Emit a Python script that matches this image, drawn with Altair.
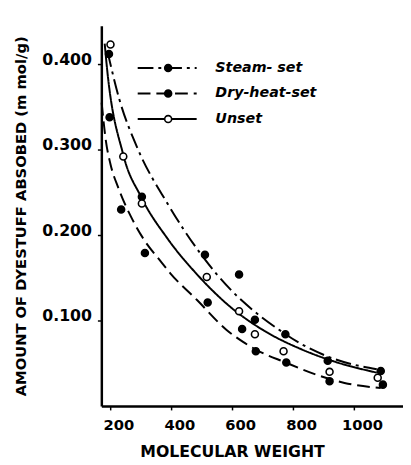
import altair as alt
import pandas as pd

series = ["Steam-set", "Dry-heat-set", "Unset"]

# measured points
steam_x = [195, 303, 510, 622, 674, 774, 913, 1087]
steam_y = [0.412, 0.245, 0.177, 0.154, 0.101, 0.084, 0.053, 0.041]
dry_x = [197, 235, 313, 519, 632, 677, 777, 919, 1094]
dry_y = [0.338, 0.230, 0.179, 0.121, 0.090, 0.064, 0.051, 0.029, 0.025]
unset_x = [200, 242, 303, 516, 622, 674, 768, 919, 1077]
unset_y = [0.423, 0.292, 0.237, 0.151, 0.111, 0.084, 0.064, 0.040, 0.033]

# fitted curves
steam_cx = [190, 229, 287, 387, 494, 603, 668, 752, 829, 935, 1074]
steam_cy = [0.415, 0.359, 0.303, 0.237, 0.179, 0.133, 0.112, 0.0895, 0.072, 0.055, 0.043]
dry_cx = [171, 185, 200, 226, 268, 313, 361, 397, 484, 581, 635, 677, 774, 881, 968, 1087]
dry_cy = [0.355, 0.310, 0.283, 0.255, 0.221, 0.193, 0.171, 0.155, 0.124, 0.089, 0.075,
          0.066, 0.051, 0.036, 0.027, 0.021]
unset_cx = [181, 187, 242, 300, 387, 484, 590, 700, 829, 935, 1074]
unset_cy = [0.424, 0.401, 0.294, 0.245, 0.196, 0.154, 0.117, 0.089, 0.066, 0.052, 0.039]

x_ticks = [200, 400, 600, 800, 1000]
y_ticks = [0.1, 0.2, 0.3, 0.4]

legend_labels = ["Steam- set", "Dry-heat-set", "Unset"]

pts = pd.concat([
    pd.DataFrame({"mw": steam_x, "amt": steam_y, "series": series[0]}),
    pd.DataFrame({"mw": dry_x, "amt": dry_y, "series": series[1]}),
    pd.DataFrame({"mw": unset_x, "amt": unset_y, "series": series[2]}),
])
curves = pd.concat([
    pd.DataFrame({"mw": steam_cx, "amt": steam_cy, "series": series[0]}),
    pd.DataFrame({"mw": dry_cx, "amt": dry_cy, "series": series[1]}),
    pd.DataFrame({"mw": unset_cx, "amt": unset_cy, "series": series[2]}),
])

FONT = "DejaVu Sans"
dashes = [[16, 5, 3, 5], [13, 6], [1, 0]]
fills = ["black", "black", "white"]

xs = alt.X("mw:Q", scale=alt.Scale(domain=[170, 1160], nice=False, zero=False),
           axis=alt.Axis(values=x_ticks, format="d", title="MOLECULAR    WEIGHT", labelOffset=8,
                         grid=False, domainWidth=2.5, domainColor="black",
                         tickSize=4, tickColor="black", tickWidth=1.5,
                         labelFont=FONT, labelFontSize=15, labelFontWeight="bold",
                         labelColor="black", labelPadding=8,
                         titleFont=FONT, titleFontSize=16, titleFontWeight="bold",
                         titleColor="black", titlePadding=11, titleX=133))
ys = alt.Y("amt:Q", scale=alt.Scale(domain=[0, 0.445], nice=False),
           axis=alt.Axis(values=y_ticks, format=".3f",
                         title="AMOUNT OF DYESTUFF ABSOBED (m mol/g)", labelOffset=-5,
                         grid=False, domainWidth=2.5, domainColor="black",
                         tickSize=4, tickColor="black", tickWidth=1.5,
                         labelFont=FONT, labelFontSize=16, labelFontWeight="bold",
                         labelColor="black", labelPadding=6,
                         titleFont=FONT, titleFontSize=15, titleFontWeight="bold",
                         titleColor="black", titlePadding=14))

lines = alt.Chart(curves).mark_line(color="black", strokeWidth=2, interpolate="monotone").encode(
    x=xs, y=ys,
    strokeDash=alt.StrokeDash("series:N", scale=alt.Scale(domain=series, range=dashes), legend=None),
    detail="series:N",
)
points = alt.Chart(pts).mark_point(shape="circle", size=50, stroke="black", strokeWidth=1.6,
                                   opacity=1, filled=False).encode(
    x="mw:Q", y="amt:Q",
    fill=alt.Fill("series:N", scale=alt.Scale(domain=series, range=fills), legend=None),
)

one = pd.DataFrame({"k": [0]})
leg_layers = []
rows_y = [43, 69, 95]
for i in range(3):
    leg_layers.append(alt.Chart(one).mark_rule(color="black", strokeWidth=2, strokeDash=dashes[i]).encode(
        x=alt.value(37), x2=alt.value(97), y=alt.value(rows_y[i])))
    leg_layers.append(alt.Chart(one).mark_point(shape="circle", size=50, stroke="black", strokeWidth=1.6,
                                                 fill=fills[i], opacity=1).encode(
        x=alt.value(68), y=alt.value(rows_y[i])))
    leg_layers.append(alt.Chart(one).mark_text(align="left", baseline="middle", font=FONT,
                                                fontSize=14.5, fontWeight="bold", fontStyle="italic",
                                                color="black").encode(
        x=alt.value(116), y=alt.value(rows_y[i]), text=alt.value(legend_labels[i])))

chart = alt.layer(lines, points, *leg_layers).properties(
    width=307, height=387,
    autosize=alt.AutoSizeParams(type="none"),
    padding={"left": 95, "top": 14, "right": 0, "bottom": 56},
    background="white",
).configure_view(stroke=None)

chart.save("out.html", embed_options={"renderer": "svg", "actions": False})
